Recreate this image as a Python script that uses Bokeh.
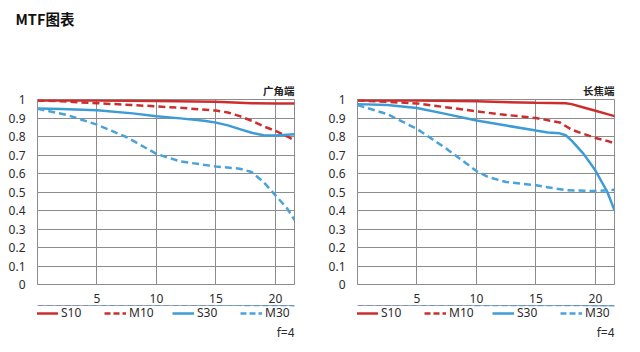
from bokeh.plotting import figure
from bokeh.layouts import row, column
from bokeh.models import (FixedTicker, CustomJSTickFormatter, Legend, LegendItem,
                          Title, Label, Range1d)
from bokeh.embed import file_html
from bokeh.resources import INLINE

# ---------------- data ----------------
title_text = "MTF图表"
panel_names = ["广角端", "长焦端"]
aperture = "f=4"
x_ticks = [5, 10, 15, 20]
y_ticks = [0, 0.1, 0.2, 0.3, 0.4, 0.5, 0.6, 0.7, 0.8, 0.9, 1.0]
x_max = 21.6

# wide end
w_s10_x = [0, 5, 10, 15, 18, 20, 21.6]
w_s10_y = [0.995, 0.995, 0.992, 0.988, 0.98, 0.978, 0.978]
w_m10_x = [0, 2, 5, 8, 10, 12, 15, 16, 17, 18, 19, 20, 21, 21.6]
w_m10_y = [0.995, 0.99, 0.98, 0.97, 0.963, 0.955, 0.94, 0.93, 0.91, 0.885, 0.855, 0.83, 0.8, 0.78]
w_s30_x = [0, 2, 5, 8, 10, 12, 14, 15, 16, 17, 18, 19, 20, 21, 21.6]
w_s30_y = [0.952, 0.948, 0.942, 0.925, 0.91, 0.898, 0.885, 0.875, 0.86, 0.84, 0.82, 0.807, 0.805, 0.81, 0.812]
w_m30_x = [0, 2.5, 5, 7.5, 10, 12, 15, 17, 18, 19, 20, 21, 21.6]
w_m30_y = [0.95, 0.916, 0.864, 0.796, 0.706, 0.665, 0.638, 0.626, 0.608, 0.554, 0.482, 0.41, 0.348]

# tele end
t_s10_x = [0, 5, 10, 15, 17.5, 18, 19, 20, 21, 21.6]
t_s10_y = [0.995, 0.995, 0.99, 0.982, 0.98, 0.975, 0.957, 0.939, 0.921, 0.91]
t_m10_x = [0, 5, 10, 12, 15, 17, 18, 19, 20, 21, 21.6]
t_m10_y = [0.995, 0.979, 0.936, 0.92, 0.9, 0.876, 0.837, 0.814, 0.792, 0.776, 0.763]
t_s30_x = [0, 2.5, 5, 7.5, 10, 12.5, 15, 16, 17, 17.5, 18, 19, 20, 21, 21.6]
t_s30_y = [0.975, 0.97, 0.954, 0.921, 0.886, 0.859, 0.832, 0.822, 0.817, 0.807, 0.778, 0.706, 0.616, 0.5, 0.401]
t_m30_x = [0, 2.5, 5, 7.5, 10, 11, 12.5, 15, 17.5, 20, 21.6]
t_m30_y = [0.97, 0.921, 0.841, 0.733, 0.613, 0.58, 0.554, 0.536, 0.51, 0.505, 0.512]

series_names = ["S10", "M10", "S30", "M30"]
RED = "#cc2e2e"
BLUE = "#3d9bd6"
BLUE2 = "#4aa3d8"
GRID = "#8c8c8c"
TXT = "#2b2b2b"
FONT = "Noto Sans"
CJK = "Noto Sans CJK SC"

STYLES = [dict(line_color=RED), dict(line_color=RED, line_dash="7 4"),
          dict(line_color=BLUE), dict(line_color=BLUE2, line_dash="7 4")]
LEG_STYLES = [dict(line_color=RED), dict(line_color=RED, line_dash="6 3"),
              dict(line_color=BLUE), dict(line_color=BLUE2, line_dash="6 3")]


def make_header():
    h = figure(width=640, height=30, output_backend="svg", toolbar_location=None,
               x_range=Range1d(0, 640), y_range=Range1d(0, 30),
               x_axis_location=None, y_axis_location=None,
               min_border_left=0, min_border_right=0, min_border_top=0,
               min_border_bottom=0)
    h.outline_line_color = None
    h.xgrid.visible = False
    h.ygrid.visible = False
    h.border_fill_color = "white"
    h.add_layout(Label(x=15, y=12, text=title_text, text_align="left",
                       text_baseline="middle", text_font=CJK, text_font_size="14.5px",
                       text_font_style="bold", text_color="#111111"))
    return h


def make_panel(name, data):
    p = figure(width=320, height=275, output_backend="svg", toolbar_location=None,
               x_range=Range1d(0, x_max), y_range=Range1d(0, 1.0),
               min_border_left=37, min_border_right=26, min_border_top=69,
               min_border_bottom=20)
    p.outline_line_color = GRID
    p.background_fill_color = "white"
    p.border_fill_color = "white"

    for ax in (p.xaxis[0], p.yaxis[0]):
        ax.axis_line_color = GRID
        ax.major_tick_line_color = None
        ax.minor_tick_line_color = None
        ax.major_label_text_font = FONT
        ax.major_label_text_font_size = "12px"
        ax.major_label_text_color = TXT
    p.xaxis.ticker = FixedTicker(ticks=x_ticks)
    p.yaxis.ticker = FixedTicker(ticks=y_ticks)
    p.yaxis.formatter = CustomJSTickFormatter(code="return String(Math.round(tick*10)/10)")
    p.xaxis.major_label_standoff = 3
    p.yaxis.major_label_standoff = 6
    p.xgrid.ticker = FixedTicker(ticks=x_ticks)
    p.ygrid.ticker = FixedTicker(ticks=y_ticks)
    p.xgrid.grid_line_color = GRID
    p.ygrid.grid_line_color = GRID

    for (xs, ys), st in zip(data, STYLES):
        p.line(xs, ys, line_width=2.5, **st)

    p.add_layout(Title(text=name, align="right", text_font=CJK, text_font_size="10.5px",
                       text_font_style="bold", text_color="#222222", standoff=3), "above")
    return p


def make_legend_fig(data):
    # legend strip below a panel; its line renderers hold the panel's series,
    # which lie outside this strip's y range, so only the legend glyphs show
    q = figure(width=320, height=47, output_backend="svg", toolbar_location=None,
               x_range=Range1d(0, x_max), y_range=Range1d(-47, 0),
               x_axis_location=None, y_axis_location=None,
               min_border_left=37, min_border_right=26, min_border_top=0,
               min_border_bottom=0)
    q.outline_line_color = None
    q.xgrid.visible = False
    q.ygrid.visible = False
    q.border_fill_color = "white"
    q.background_fill_color = "white"
    rs = [q.line(xs, ys, line_width=2.5, **st) for (xs, ys), st in zip(data, LEG_STYLES)]
    items = [LegendItem(label=n, renderers=[r]) for n, r in zip(series_names, rs)]
    leg = Legend(items=items, orientation="horizontal", location=(-1, 31),
                 glyph_width=22, glyph_height=12, label_width=25, label_standoff=3,
                 spacing=18, padding=0, margin=0, border_line_color=None,
                 background_fill_alpha=0, label_text_font=FONT,
                 label_text_font_size="12px", label_text_color=TXT)
    q.add_layout(leg)
    q.add_layout(Label(x=x_max, y=-27, text=aperture, text_align="right",
                       text_baseline="middle", text_font=FONT, text_font_size="12px",
                       text_color=TXT))
    return q


wide = [(w_s10_x, w_s10_y), (w_m10_x, w_m10_y), (w_s30_x, w_s30_y), (w_m30_x, w_m30_y)]
tele = [(t_s10_x, t_s10_y), (t_m10_x, t_m10_y), (t_s30_x, t_s30_y), (t_m30_x, t_m30_y)]

layout = column(make_header(),
                row(make_panel(panel_names[0], wide), make_panel(panel_names[1], tele)),
                row(make_legend_fig(wide), make_legend_fig(tele)))
open("out.html", "w").write(file_html(layout, INLINE))
